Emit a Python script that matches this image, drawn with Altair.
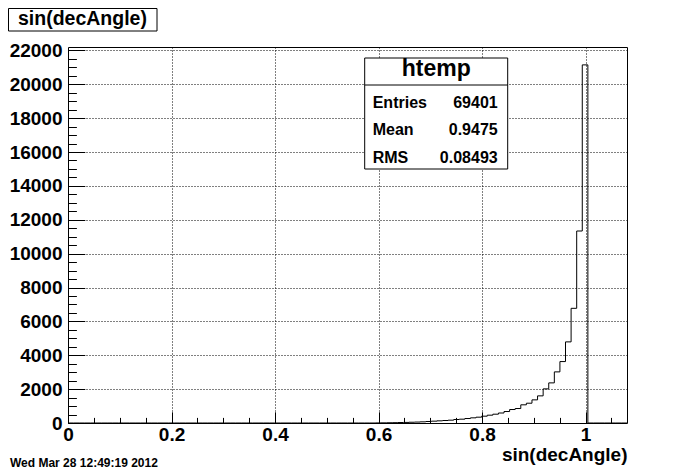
import altair as alt
import pandas as pd

# ---------------- data ----------------
n_bins = 100
x_low, x_high = 0.0, 1.08
y_top = 22200
first_filled_bin = 55
filled_counts = [5, 10, 15, 20, 28, 35, 45, 55, 69, 88,
                 108, 128, 147, 167, 206, 226, 265, 305, 344, 403,
                 462, 520, 590, 678, 796, 855, 1073, 1168, 1366, 1602,
                 2015, 2369, 3018, 3627, 4789, 6771, 11336, 21144]

x_major = [0, 0.2, 0.4, 0.6, 0.8, 1.0]
x_minor = [0.05, 0.1, 0.15, 0.25, 0.3, 0.35, 0.45, 0.5, 0.55, 0.65, 0.7,
           0.75, 0.85, 0.9, 0.95, 1.05]
y_major = [0, 2000, 4000, 6000, 8000, 10000, 12000, 14000, 16000, 18000,
           20000, 22000]
y_minor = [500, 1000, 1500, 2500, 3000, 3500, 4500, 5000, 5500, 6500, 7000,
           7500, 8500, 9000, 9500, 10500, 11000, 11500, 12500, 13000, 13500,
           14500, 15000, 15500, 16500, 17000, 17500, 18500, 19000, 19500,
           20500, 21000, 21500]

title_text = "sin(decAngle)"
x_title = "sin(decAngle)"
stats_name = "htemp"
stats_labels = ["Entries", "Mean", "RMS"]
stats_values = ["69401", "0.9475", "0.08493"]
date_text = "Wed Mar 28 12:49:19 2012"

# ---------------- build histogram outline table ----------------
bw = (x_high - x_low) / n_bins
counts = [0] * n_bins
for i, c in enumerate(filled_counts):
    counts[first_filled_bin + i] = c
edges = [x_low + k * bw for k in range(n_bins + 1)]
df = pd.DataFrame({"x": edges, "count": counts + [0]})

FONT = "Liberation Sans"
W, H = 559, 376

xs = alt.Scale(domain=[x_low, x_high], nice=False, zero=False)
ys = alt.Scale(domain=[0, y_top], nice=False, zero=True)
base = alt.Chart(df)

# grid + x title
grid_layer = base.mark_point(opacity=0).encode(
    x=alt.X("x:Q", scale=xs, axis=alt.Axis(
        orient="bottom", values=x_major[1:], grid=True, gridColor="black",
        gridDash=[1, 2], gridOpacity=1, gridWidth=1, ticks=False, labels=False,
        domain=False, title=x_title, titleFont=FONT, titleFontSize=19,
        titleFontWeight="bold", titleColor="black", titleAlign="right",
        titleAnchor="end", titleX=W, titleY=37, titleBaseline="alphabetic")),
    y=alt.Y("count:Q", scale=ys, axis=alt.Axis(
        orient="left", values=y_major[1:], grid=True, gridColor="black",
        gridDash=[1, 2], gridOpacity=1, gridWidth=1, ticks=False, labels=False,
        domain=False, title=None)),
)

# histogram + major ticks and labels
hist = base.mark_line(interpolate="step-after", color="black", strokeWidth=1).encode(
    x=alt.X("x:Q", scale=xs, axis=alt.Axis(
        orient="bottom", values=x_major, offset=-11.2, tickSize=11.2,
        tickColor="black", tickWidth=1, domain=False, grid=False,
        labelFont=FONT, labelFontSize=19, labelFontWeight="bold",
        labelColor="black", labelPadding=2, labelFlush=False, format="~g",
        title=None)),
    y=alt.Y("count:Q", scale=ys, axis=alt.Axis(
        orient="left", values=y_major, offset=-16.8, tickSize=16.8,
        tickColor="black", tickWidth=1, domain=False, grid=False,
        labelFont=FONT, labelFontSize=19, labelFontWeight="bold",
        labelColor="black", labelPadding=6, labelFlush=False, format="d",
        title=None)),
)

# minor ticks
minor_layer = base.mark_point(opacity=0).encode(
    x=alt.X("x:Q", scale=xs, axis=alt.Axis(
        orient="bottom", values=x_minor, offset=-5.6, tickSize=5.6,
        tickColor="black", tickWidth=1, domain=False, grid=False,
        labels=False, title=None)),
    y=alt.Y("count:Q", scale=ys, axis=alt.Axis(
        orient="left", values=y_minor, offset=-8.4, tickSize=8.4,
        tickColor="black", tickWidth=1, domain=False, grid=False,
        labels=False, title=None)),
)

one = alt.Chart(pd.DataFrame({"t": [0]}))

def txt(s, x, y, size, align="left"):
    return one.mark_text(text=s, font=FONT, fontWeight="bold", fontSize=size,
                         color="black", align=align, baseline="alphabetic").encode(
        x=alt.value(x), y=alt.value(y))

# stats box
bx0, bx1, by0, by1, bsep = 296.7, 439.7, 11, 122, 38
stats_box = one.mark_rect(fill="white", stroke="black", strokeWidth=1).encode(
    x=alt.value(bx0), x2=alt.value(bx1), y=alt.value(by0), y2=alt.value(by1))
stats_sep = one.mark_rule(color="black", strokeWidth=1).encode(
    x=alt.value(bx0), x2=alt.value(bx1), y=alt.value(bsep))
stats_layers = [stats_box, stats_sep, txt(stats_name, (bx0 + bx1) / 2, 29, 23, "center")]
row_base = [61.3, 88, 115.7]
for lab, val, yb in zip(stats_labels, stats_values, row_base):
    stats_layers.append(txt(lab, bx0 + 8, yb, 16))
    stats_layers.append(txt(val, bx1 - 10, yb, 16, "right"))

# title box
title_box = one.mark_rect(fill="white", stroke="black", strokeWidth=1).encode(
    x=alt.value(-59.5), x2=alt.value(89), y=alt.value(-38.5), y2=alt.value(-16))
title_txt = txt(title_text, -50, -22, 19.5)

date_txt = txt(date_text, -58, 420, 12)

chart = alt.layer(
    grid_layer, hist, minor_layer, *stats_layers, title_box, title_txt, date_txt
).resolve_axis(x="independent", y="independent").properties(
    width=W, height=H,
    padding={"left": 60, "top": 39, "right": 61, "bottom": 47},
    autosize=alt.AutoSizeParams(type="none"),
    background="white",
).configure_view(stroke="black", strokeWidth=1)

chart.save("out.html", embed_options={"renderer": "svg", "actions": False})
